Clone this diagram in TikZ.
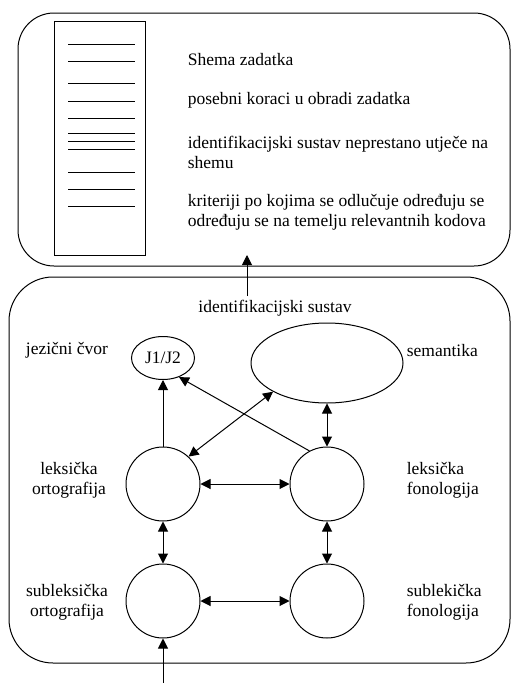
\documentclass[tikz,border=0pt]{standalone}
\usepackage{fontspec}
\setmainfont{Liberation Serif}
\usetikzlibrary{arrows.meta,shapes.geometric}

\begin{document}
\begin{tikzpicture}[
        x=1pt, y=-1pt, line width=1pt,
        every node/.style={font=\fontsize{17.5}{20}\selectfont},
        krug/.style={circle, draw, minimum size=74pt, inner sep=0pt},
        elipsa/.style={ellipse, draw, inner sep=0pt},
        opis/.style={anchor=west, align=left},
        strelica/.style={-{Triangle[length=10pt,width=10pt]}},
        dvostruka/.style={{Triangle[length=10pt,width=10pt]}-{Triangle[length=10pt,width=10pt]}},
        okvir/.style={draw, rounded corners=#1}
      ]
      \useasboundingbox (0,0) rectangle (512,683);
      \draw[okvir=36pt] (18,13) rectangle (510,266);
      \draw[okvir=44pt] (9,277) rectangle (510,663);
      \draw (54,21) rectangle (145,255);
      \foreach \y in {44,61,83,101,118,133,141,149,172,189,206}
        \draw (68,\y) -- (135,\y);
      \node[opis] (shema) at (184,60) {Shema zadatka};
      \node[opis] (koraci) at (184,100) {posebni koraci u obradi zadatka};
      \node[opis] (utjece) at (184,152) {identifikacijski sustav neprestano utječe na\\shemu};
      \node[opis] (kriteriji) at (184,212) {kriteriji po kojima se odlučuje određuju se\\određuju se na temelju relevantnih kodova};
      \node (idsus) at (275,308) {identifikacijski sustav};
      \coordinate (shemaIn) at (247,255);
      \coordinate (ulaz) at (163,683);
      \node[elipsa, minimum width=63pt, minimum height=43pt] (j12) at (163,358) {J1/J2};
      \node[elipsa, minimum width=152pt, minimum height=80pt] (sem) at (327,363) {};
      \node[krug] (lo) at (163,484) {};
      \node[krug] (lf) at (327,484) {};
      \node[krug] (so) at (163,601) {};
      \node[krug] (sf) at (327,601) {};
      \node (cvor) at (67,350) {jezični čvor};
      \node[opis] (semantika) at (403,351) {semantika};
      \node[align=center] (lorto) at (69,480) {leksička\\ortografija};
      \node[opis] (lfono) at (403,480) {leksička\\fonologija};
      \node[align=center] (sorto) at (67,602) {subleksička\\ortografija};
      \node[opis] (sfono) at (403,602) {sublekička\\fonologija};
      \draw[strelica] ([xshift=-28pt]idsus.north) -- (shemaIn);
      \draw[strelica] (ulaz) -- (so);
      \draw[strelica] (lo) -- (j12);
      \draw[strelica] (lf.118) -- (j12.-50);
      \draw[dvostruka] (lo.47) -- (sem.208);
      \draw[dvostruka] (sem) -- (lf);
      \draw[dvostruka] (lo) -- (lf);
      \draw[dvostruka] (lo) -- (so);
      \draw[dvostruka] (lf) -- (sf);
      \draw[dvostruka] (so) -- (sf);
    \end{tikzpicture}
\end{document}
